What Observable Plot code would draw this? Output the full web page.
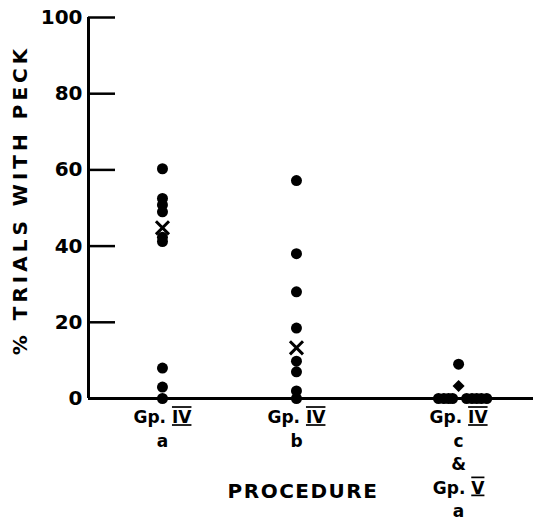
<!DOCTYPE html>
<html>
<head>
<meta charset="utf-8">
<script src="https://cdn.jsdelivr.net/npm/d3@7"></script>
<script src="https://cdn.jsdelivr.net/npm/@observablehq/plot@0.6"></script>
<style>
  html, body { margin: 0; padding: 0; background: white; }
</style>
</head>
<body>
<div id="chart"></div>
<script>
// ---- data ----
const yTicks = [0, 20, 40, 60, 80, 100];
const groupNames = ["a", "b", "c"];
const groupPos = [1, 2, 3.21];
const groupLabels = ["Gp. IV\na", "Gp. IV\nb", "Gp. IV\nc\n&\nGp. V\na"];
const yLabel = "% TRIALS WITH PECK";
const xLabel = "PROCEDURE";

const aValues = [60.3, 52.5, 50.8, 49, 42.3, 41.2, 8, 3, 0];
const bValues = [57.2, 38, 28, 18.5, 9.8, 7, 2, 0];
const cValues = [9];
// group c: several birds at 0, drawn side by side along the baseline
const cZeroX = [3.06, 3.10, 3.135, 3.165, 3.27, 3.31, 3.345, 3.38, 3.42];
const cZeroValues = [0, 0, 0, 0, 0, 0, 0, 0, 0];
// group central-tendency markers
const markA = 44.8;
const markB = 13.3;
const markC = 3.3;

const xDomain = [0.448, 3.769];

// ---- tables ----
const points = [
  ...aValues.map(v => ({x: groupPos[0], y: v})),
  ...bValues.map(v => ({x: groupPos[1], y: v})),
  ...cValues.map(v => ({x: groupPos[2], y: v})),
  ...cZeroX.map((x, i) => ({x, y: cZeroValues[i]}))
];
const crosses = [{x: groupPos[0], y: markA}, {x: groupPos[1], y: markB}];
const diamonds = [{x: groupPos[2], y: markC}];
const labels = groupNames.map((g, i) => ({x: groupPos[i], text: groupLabels[i]}));

const W = 535, H = 522, mL = 88, mR = 2, mT = 17, mB = 124;
const frameW = W - mL - mR;

const chart = Plot.plot({
  width: W, height: H,
  marginLeft: mL, marginRight: mR, marginTop: mT, marginBottom: mB,
  style: {fontFamily: "'DejaVu Sans', sans-serif", fontWeight: "bold", background: "white", color: "black", overflow: "visible"},
  x: {domain: xDomain, axis: null},
  y: {domain: [0, 100], axis: null},
  marks: [
    Plot.tickY(yTicks, {y: d => d, insetRight: frameW - 27, stroke: "black", strokeWidth: 2.5}),
    Plot.ruleX([xDomain[0]], {y1: 0, y2: 100, stroke: "black", strokeWidth: 3}),
    Plot.ruleY([0], {stroke: "black", strokeWidth: 3}),
    Plot.text(yTicks, {x: xDomain[0], y: d => d, text: d => String(d), textAnchor: "end", dx: -6, fontSize: 20, fontWeight: "bold", fill: "black"}),
    Plot.dot(points, {x: "x", y: "y", r: 5.5, fill: "black"}),
    Plot.dot(crosses, {x: "x", y: "y", symbol: "times", r: 6, stroke: "black", strokeWidth: 3}),
    Plot.dot(diamonds, {x: "x", y: "y", symbol: "square", rotate: 45, r: 4.8, fill: "black"}),
    Plot.text(labels, {x: "x", y: 0, text: "text", lineAnchor: "top", dy: 8, fontSize: 17, lineHeight: 1.38, fontWeight: "bold", fill: "black"}),
    Plot.text([xLabel], {frameAnchor: "bottom", text: d => d, textAnchor: "middle", dx: -8, dy: 99, fontSize: 20, fontWeight: "bold", fill: "black"}),
    Plot.text([yLabel], {frameAnchor: "left", text: d => d, textAnchor: "middle", rotate: -90, dx: -68, dy: -8, fontSize: 20, fontWeight: "bold", fill: "black"})
  ]
});

document.getElementById("chart").appendChild(chart);

// letter spacing for axis titles, and barred roman numerals
d3.select(chart).selectAll("text").each(function() {
  const t = this.textContent;
  if (t === yLabel) this.style.letterSpacing = "4px";
  if (t === xLabel) this.style.letterSpacing = "1.5px";
});
d3.select(chart).selectAll("tspan, text").each(function() {
  if (this.childElementCount > 0) return;
  const m = /^(Gp\. )(I?V)$/.exec(this.textContent);
  if (!m) return;
  this.textContent = m[1];
  const ns = "http://www.w3.org/2000/svg";
  const sp = document.createElementNS(ns, "tspan");
  sp.textContent = m[2];
  sp.setAttribute("style", "text-decoration: underline overline; text-decoration-thickness: 2px;");
  this.appendChild(sp);
});
</script>
</body>
</html>
